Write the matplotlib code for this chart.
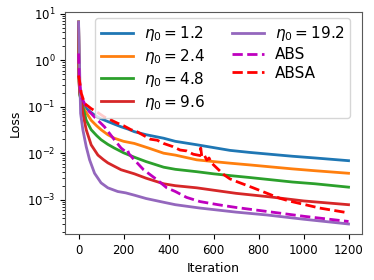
import matplotlib
matplotlib.use('Agg')
import matplotlib.pyplot as plt

# loss curves (iteration, loss)
it_12 = [0, 2, 5, 12, 27, 50, 71, 100, 130, 160, 189, 220, 248, 300, 378, 430, 525,
         600, 673, 760, 850, 950, 1050, 1200]
loss_12 = [6.6, 0.5, 0.22, 0.14, 0.1, 0.079, 0.066, 0.055, 0.048, 0.042, 0.037, 0.033,
           0.029, 0.025, 0.021, 0.018, 0.0152, 0.0132, 0.0115, 0.0104, 0.0095, 0.0086,
           0.0079, 0.0069]

it_24 = [0, 2, 5, 12, 27, 56, 80, 100, 130, 159, 200, 248, 311, 378, 430, 525, 600, 673,
         760, 850, 950, 1050, 1200]
loss_24 = [6.6, 0.45, 0.2, 0.13, 0.085, 0.051, 0.039, 0.032, 0.025, 0.021, 0.018, 0.0162,
           0.0129, 0.0100, 0.0091, 0.0072, 0.0066, 0.0061, 0.0056, 0.0051, 0.0046, 0.0042,
           0.0037]

it_48 = [0, 2, 5, 12, 19, 34, 56, 80, 100, 130, 159, 200, 248, 300, 378, 430, 525, 600,
         673, 760, 850, 950, 1050, 1200]
loss_48 = [6.6, 0.4, 0.18, 0.13, 0.1, 0.051, 0.032, 0.024, 0.0195, 0.0155, 0.0129, 0.0102,
           0.0082, 0.0066, 0.0050, 0.0045, 0.0040, 0.0036, 0.0033, 0.003, 0.0027, 0.0024,
           0.0022, 0.00186]

it_96 = [0, 2, 5, 12, 19, 34, 56, 86, 110, 130, 160, 189, 248, 300, 378, 430, 525, 600,
         700, 850, 1000, 1200]
loss_96 = [6.6, 0.35, 0.2, 0.138, 0.072, 0.032, 0.0151, 0.0091, 0.0073, 0.0062, 0.0052,
           0.0044, 0.0036, 0.0029, 0.0022, 0.002, 0.0018, 0.0016, 0.00137, 0.00115,
           0.00094, 0.00078]

it_192 = [0, 9, 19, 34, 49, 71, 100, 130, 174, 210, 248, 300, 378, 430, 540, 700, 835,
          1000, 1200]
loss_192 = [6.6, 0.072, 0.032, 0.0138, 0.0072, 0.0037, 0.0023, 0.0018, 0.0015, 0.0014,
            0.00125, 0.00106, 0.00088, 0.00078, 0.00066, 0.00054, 0.00047, 0.00038, 0.0003]

it_abs = [0, 3, 12, 41, 71, 115, 159, 189, 210, 218, 224, 241, 289, 348, 392, 430, 480,
          540, 620, 700, 835, 1000, 1200]
loss_abs = [1.4, 0.4, 0.162, 0.085, 0.06, 0.037, 0.0195, 0.0129, 0.0107, 0.0115, 0.0097,
            0.0078, 0.0044, 0.0027, 0.0018, 0.0015, 0.00112, 0.00091, 0.00078, 0.00068,
            0.00056, 0.00044, 0.00034]

it_absa = [0, 4, 12, 27, 56, 85, 115, 140, 150, 174, 200, 233, 260, 290, 319, 350, 378,
           420, 451, 480, 510, 540, 543, 548, 560, 570, 580, 590, 600, 644, 673, 703, 776,
           850, 895, 939, 1072, 1200]
loss_absa = [0.47, 0.37, 0.195, 0.117, 0.091, 0.075, 0.06, 0.054, 0.05, 0.044, 0.039,
             0.032, 0.029, 0.024, 0.02, 0.019, 0.0162, 0.0138, 0.0117, 0.0112, 0.0095,
             0.0089, 0.0129, 0.0083, 0.0089, 0.0071, 0.0079, 0.0063, 0.0056, 0.0035,
             0.0028, 0.00245, 0.0018, 0.0013, 0.00107, 0.00093, 0.00066, 0.00052]

fig = plt.figure(figsize=(3.74, 2.8), dpi=100)
ax = fig.add_axes([0.174, 0.164, 0.794, 0.793])

ax.plot(it_12, loss_12, color='C0', lw=2, label=r'$\eta_0 = 1.2$')
ax.plot(it_24, loss_24, color='C1', lw=2, label=r'$\eta_0 = 2.4$')
ax.plot(it_48, loss_48, color='C2', lw=2, label=r'$\eta_0 = 4.8$')
ax.plot(it_96, loss_96, color='C3', lw=2, label=r'$\eta_0 = 9.6$')
ax.plot(it_192, loss_192, color='C4', lw=2, label=r'$\eta_0 = 19.2$')
ax.plot(it_abs, loss_abs, 'm--', lw=2, label='ABS')
ax.plot(it_absa, loss_absa, 'r--', lw=2, label='ABSA')

ax.set_yscale('log')
ax.set_xticks([0, 200, 400, 600, 800, 1000, 1200])
ax.tick_params(labelsize=8.5)
ax.set_xlabel('Iteration', fontsize=9)
ax.set_ylabel('Loss', fontsize=9)
for s in ax.spines.values():
    s.set_color('0.35')

ax.legend(ncol=2, fontsize=11, loc='upper right', bbox_to_anchor=(0.96, 0.973),
          borderaxespad=0, labelspacing=0.25, handletextpad=0.7, columnspacing=1.8,
          handlelength=2.1)

fig.savefig('out.png', dpi=100)
